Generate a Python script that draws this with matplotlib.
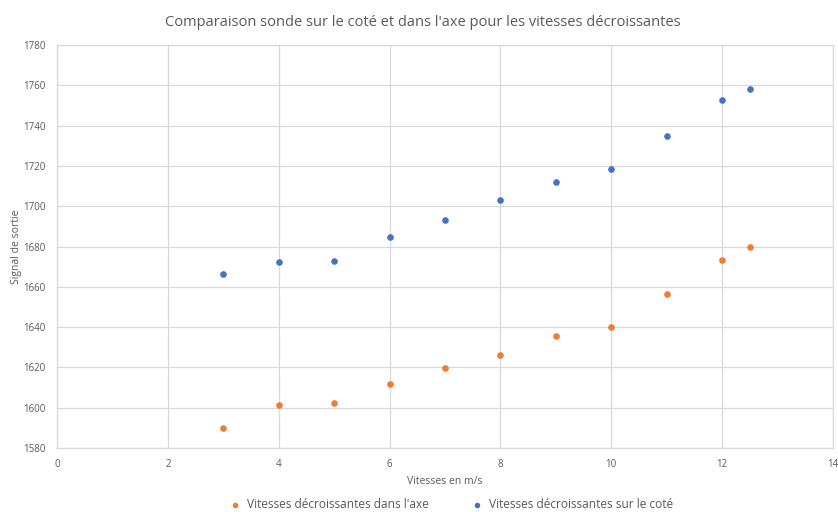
import matplotlib.pyplot as plt

# ============================================
# Data
# ============================================
vitesses_axe = [3, 4, 5, 6, 7, 8, 9, 10, 11, 12, 12.5]
signal_axe = [1590, 1601.5, 1602.3, 1611.8, 1619.8, 1626, 1635.8, 1640, 1656.3, 1673.5, 1680]

vitesses_cote = [3, 4, 5, 6, 7, 8, 9, 10, 11, 12, 12.5]
signal_cote = [1666.3, 1672.3, 1672.6, 1684.7, 1693.2, 1703.3, 1712, 1718.3, 1734.7, 1752.6, 1758]

x_ticks = [0, 2, 4, 6, 8, 10, 12, 14]
y_ticks = [1580, 1600, 1620, 1640, 1660, 1680, 1700, 1720, 1740, 1760, 1780]

# ============================================
# Plot
# ============================================
plt.rcParams["font.family"] = ["Open Sans", "DejaVu Sans"]

grey_txt = "#595959"
grid_col = "#d9d9d9"

fig = plt.figure(figsize=(8.38, 5.12), dpi=100)
ax = fig.add_axes([0.068, 0.125, 0.926, 0.787])

ax.scatter(vitesses_axe, signal_axe, s=14, color="#ED7D31", zorder=3,
           label="Vitesses décroissantes dans l'axe")
ax.scatter(vitesses_cote, signal_cote, s=14, color="#4472C4", zorder=3,
           label="Vitesses décroissantes sur le coté")

ax.set_xlim(0, 14)
ax.set_ylim(1580, 1780)
ax.set_xticks(x_ticks)
ax.set_yticks(y_ticks)

ax.grid(True, color=grid_col, linewidth=0.9)
ax.set_axisbelow(True)
for side in ["top", "right", "left", "bottom"]:
    ax.spines[side].set_color(grid_col)
    ax.spines[side].set_linewidth(0.9)

ax.tick_params(length=0, labelsize=7, labelcolor=grey_txt, pad=8)

ax.set_xlabel("Vitesses en m/s", fontsize=7.5, color=grey_txt, labelpad=4)
ax.set_ylabel("Signal de sortie", fontsize=7.5, color=grey_txt)
ax.yaxis.set_label_coords(-0.045, 0.5)

fig.suptitle("Comparaison sonde sur le coté et dans l'axe pour les vitesses décroissantes",
             x=0.505, y=0.97, fontsize=10.5, color=grey_txt)

fig.legend(loc="lower center", bbox_to_anchor=(0.535, -0.02), ncol=2,
           frameon=False, fontsize=8.6, labelcolor=grey_txt,
           handletextpad=0.0, columnspacing=3, markerscale=0.8)

fig.savefig("out.png", dpi=100)
